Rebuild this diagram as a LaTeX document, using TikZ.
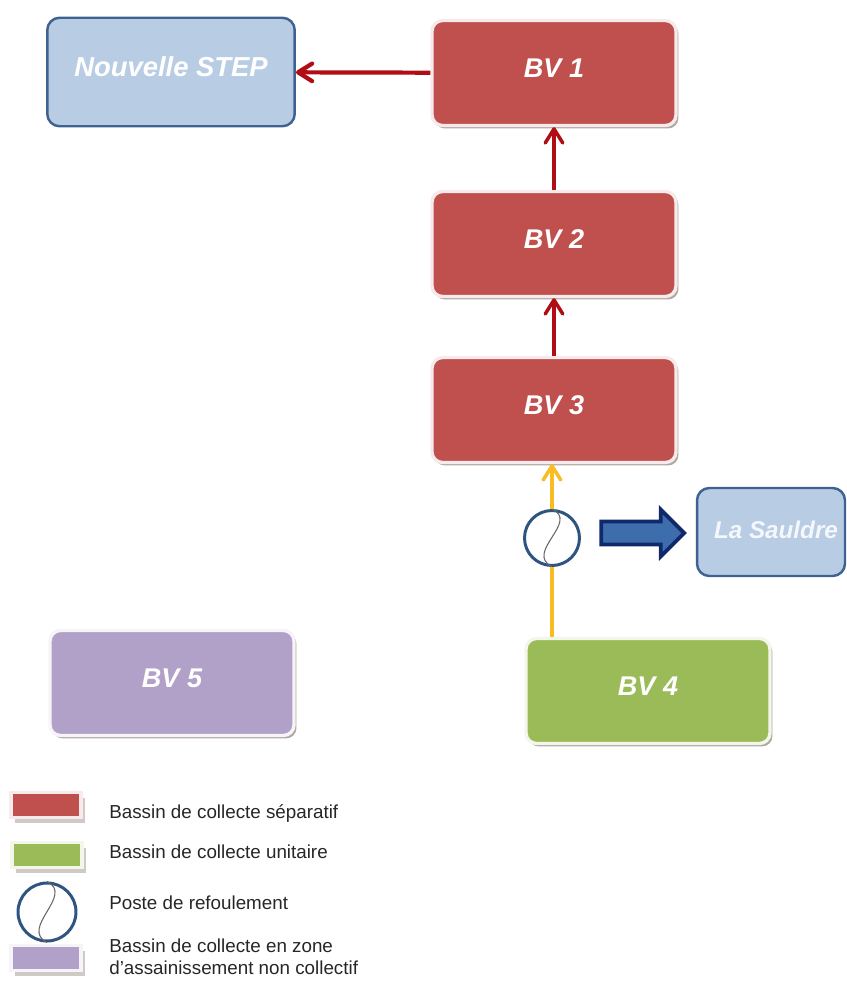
\documentclass[tikz,border=0pt]{standalone}
\usepackage{fontspec}
\setmainfont{Liberation Sans}
\usetikzlibrary{arrows.meta,shapes.arrows,shadows}
\definecolor{rougebv}{HTML}{C0504D}
\definecolor{vertbv}{HTML}{9BBB59}
\definecolor{violetbv}{HTML}{B1A0C7}
\definecolor{bleubv}{HTML}{B8CCE4}
\definecolor{bleutrait}{HTML}{3F6390}
\definecolor{bleuposte}{HTML}{2F5480}
\definecolor{rougefleche}{HTML}{B00D14}
\definecolor{jaunefleche}{HTML}{F8BC24}
\definecolor{ombre}{HTML}{A89F98}
\definecolor{bleufleche}{HTML}{3E6DAE}
\definecolor{marine}{HTML}{10296A}
\tikzset{
	bassin/.style={draw=#1!12!white, fill=#1, line width=1.9pt, rounded corners=6pt, minimum width=4.88cm, minimum height=2.1cm, text=white, font=\fontsize{15.4}{18}\selectfont\bfseries\itshape, text depth=0.2cm, drop shadow={shadow xshift=0.05cm, shadow yshift=-0.06cm, fill=ombre, opacity=0.9}},
	rejet/.style={draw=bleutrait, fill=bleubv, line width=1.4pt, rounded corners=7pt, text=white, font=\fontsize{15.6}{18}\selectfont\bfseries\itshape, text depth=0.2cm},
	poste/.style={circle, draw=bleuposte, fill=white, line width=1.7pt, minimum size=1.1cm, inner sep=0pt},
	legende/.style={draw=#1!12!white, fill=#1, line width=1.9pt, minimum width=1.4cm, minimum height=0.5cm, inner sep=0pt, drop shadow={shadow xshift=0.08cm, shadow yshift=-0.1cm, fill=ombre, opacity=0.55}},
	texte/.style={anchor=west, inner sep=0pt, align=left, font=\fontsize{10.7}{12.4}\selectfont, text=black!85},
	courbe/.style={draw=black!60, line width=0.6pt},
	sepfleche/.style={draw=rougefleche, line width=2pt, -{Straight Barb[length=8pt, width=10pt, round]}},
	unifleche/.style={draw=jaunefleche, line width=2pt, -{Straight Barb[length=8pt, width=10pt, round]}},
	rejetfleche/.style={single arrow, draw=marine, fill=bleufleche, line width=2.2pt, minimum height=1.66cm, minimum width=0.94cm, inner ysep=0.19cm, inner xsep=0pt, single arrow head extend=0.24cm, single arrow head indent=0cm}
}
\begin{document}
\begin{tikzpicture}[x=0.02cm,y=-0.02cm]
	\useasboundingbox (0,0) rectangle (846,981);

	\node[rejet, minimum width=4.95cm, minimum height=2.17cm] (step) at (171,72) {Nouvelle STEP};
	\node[rejet, minimum width=2.96cm, minimum height=1.76cm, font=\fontsize{13.8}{16}\selectfont\bfseries\itshape, text=white!85!bleubv, text depth=0.1cm] (sauldre) at (771,532) {\hspace{0.2cm}La Sauldre};

	\node[bassin=rougebv] (bv1) at (554,73) {BV 1};
	\node[bassin=rougebv] (bv2) at (554,244) {BV 2};
	\node[bassin=rougebv] (bv3) at (554,410) {BV 3};
	\node[bassin=vertbv] (bv4) at (648,691) {BV 4};
	\node[bassin=violetbv] (bv5) at (172,683) {BV 5};

	\node[poste] (pr) at (552,538) {};
	\draw[courbe] (pr.north) .. controls (580,522) and (524,552) .. (pr.south);

	\draw[sepfleche, line width=2.4pt] (bv1) -- (step);
	\draw[sepfleche] (bv2) -- (bv1);
	\draw[sepfleche] (bv3) -- (bv2);
	\draw[unifleche] (pr.north) -- (bv3.south -| pr.north);
	\draw[jaunefleche, line width=2pt] (bv4.north -| pr.south) -- (pr.south);

	\node[rejetfleche] (rejet) at (637,533) {};

	\node[legende=rougebv] (legsep) at (46,805) {};
	\node[legende=vertbv] (leguni) at (47,855) {};
	\node[poste, minimum size=1.16cm] (legpr) at (47,912) {};
	\draw[courbe] (legpr.north) .. controls (75,895) and (19,928) .. (legpr.south);
	\node[legende=violetbv] (legnc) at (46,958) {};

	\node[texte] (txtsep) at (109,814) {Bassin de collecte séparatif};
	\node[texte] (txtuni) at (109,852) {Bassin de collecte unitaire};
	\node[texte] (txtpr) at (109,903) {Poste de refoulement};
	\node[texte] (txtnc) at (109,957) {Bassin de collecte en zone\\d’assainissement  non collectif};
\end{tikzpicture}
\end{document}
